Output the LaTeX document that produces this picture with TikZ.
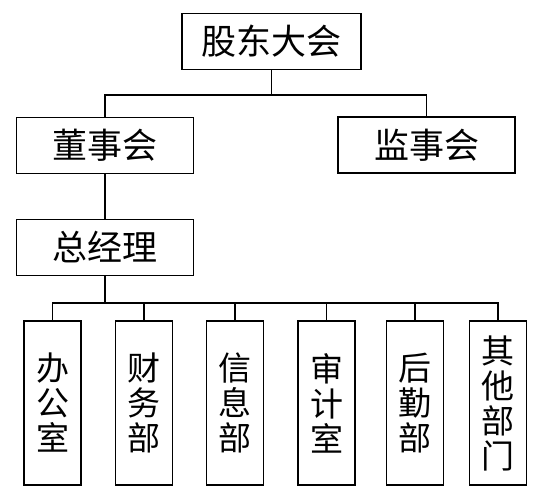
\documentclass[tikz,border=0pt]{standalone}
\usepackage{fontspec}
\setmainfont{Noto Sans CJK SC}
\usetikzlibrary{positioning,calc}
\tikzset{
  unit/.style ={draw=black, line width=1.6pt, fill=white, inner sep=0pt},
  wide/.style ={unit, minimum width=177pt, minimum height=56pt,
                font=\fontsize{35}{38}\selectfont},
  dept/.style ={unit, minimum width=57pt, minimum height=164pt, align=center,
                font=\fontsize{33}{35}\selectfont},
  link/.style ={draw=black, line width=1.6pt},
}

\begin{document}
\begin{tikzpicture}[x=1pt,y=-1pt]
  \useasboundingbox (0,0) rectangle (558,500);

  % ---------------------------------------------------------------- upper levels
  \node[wide, minimum width=179pt] (gd)  at (271.5,41.5) {股东大会};
  \node[wide]                      (dsh) at (105,145.5)  {董事会};
  \node[wide]                      (jsh) at (426.5,145)  {监事会};
  \node[wide]                      (zjl) at (105,247.5)  {总经理};

  % ---------------------------------------------------------------- departments
  \foreach \n/\x/\t in {bgs/52.5/办\\公\\室, cwb/144/财\\务\\部, xxb/235/信\\息\\部,
                        sjs/326.5/审\\计\\室, hqb/415/后\\勤\\部, qt/498/其\\他\\部\\门}
    \node[dept] (\n) at (\x,403) {\t};

  % ---------------------------------------------------------------- links
  \coordinate (tb) at (271.5,95);
  \draw[link] (gd.south) -- (tb);
  \draw[link] (dsh.north) |- (tb) -| (jsh.north);
  \draw[link] (dsh.south) -- (zjl.north);
  \coordinate (lb) at (105,303);
  \draw[link] (zjl.south) -- (lb);
  \foreach \n in {bgs,cwb,xxb,sjs,hqb,qt}
    \draw[link] (lb) -| (\n.north);
\end{tikzpicture}
\end{document}
